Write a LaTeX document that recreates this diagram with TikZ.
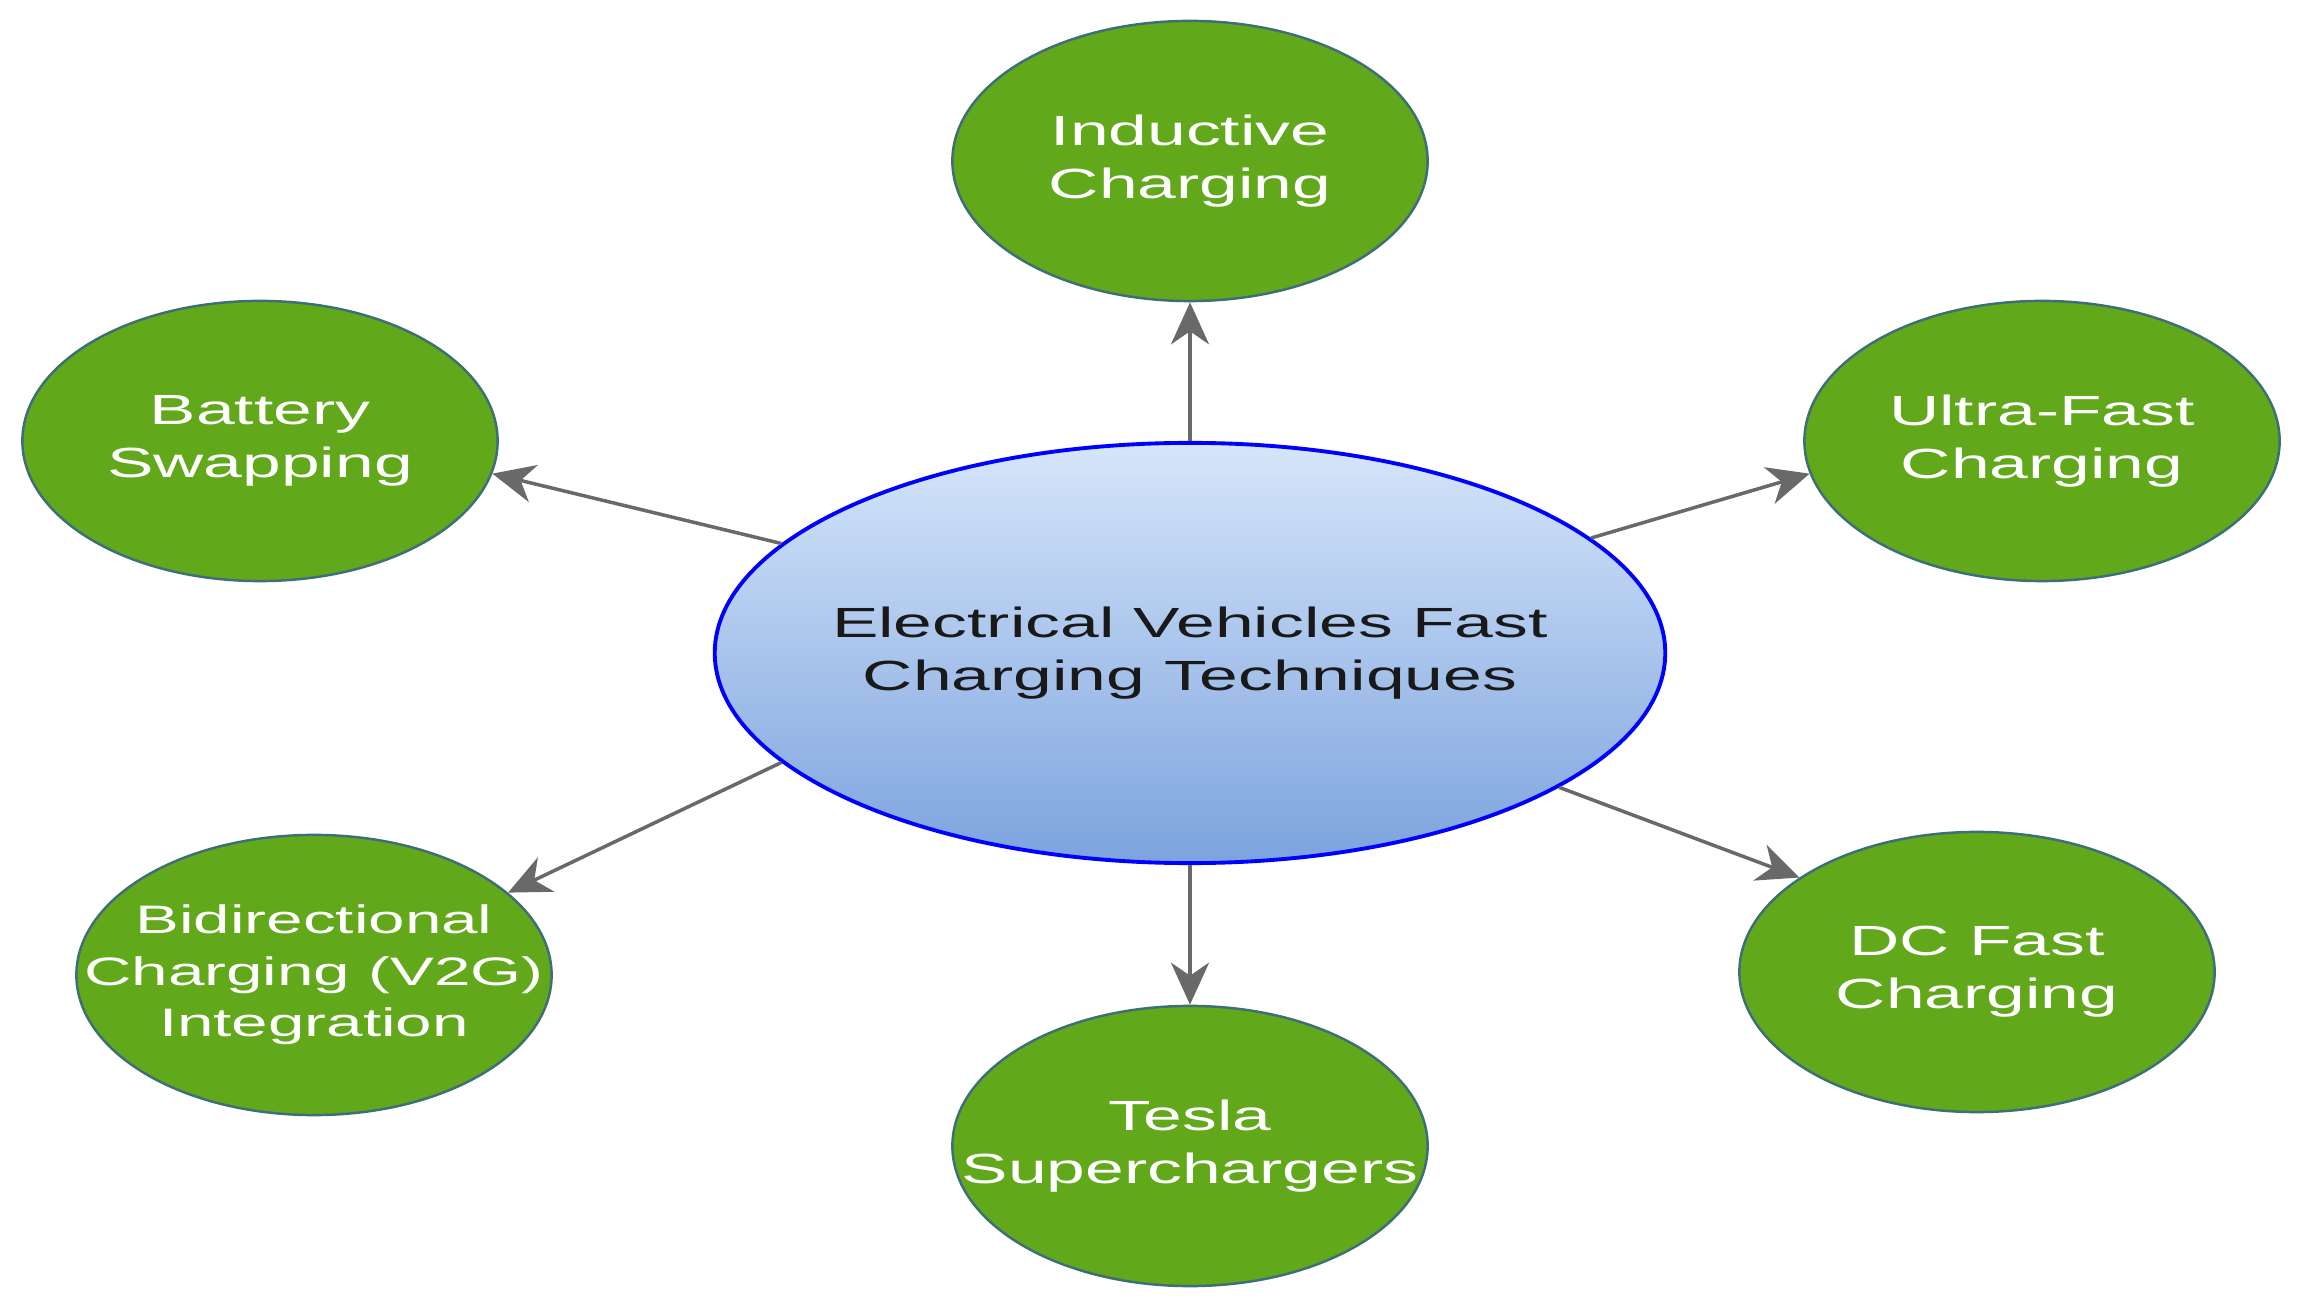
\documentclass[tikz,border=0pt]{standalone}
\usepackage{fontspec}
\setmainfont[FakeStretch=1.65]{Liberation Sans}
\usepackage{xcolor}
\usepackage{tikz}
\usetikzlibrary{shapes,arrows.meta,positioning}

\definecolor{techgreen}{RGB}{97,168,27}
\definecolor{techedge}{RGB}{62,110,120}
\definecolor{hubtop}{RGB}{214,230,250}
\definecolor{hubbottom}{RGB}{124,163,222}
\definecolor{arrowgrey}{RGB}{105,105,105}

\begin{document}
\begin{tikzpicture}[
    x=0.01cm, y=-0.01cm,
    tech/.style={ellipse, draw=techedge, line width=0.7pt, fill=techgreen, minimum width=4.75cm, minimum height=2.8cm, inner xsep=-1.6cm, inner ysep=0pt, align=center, text=white, font=\fontsize{12}{15}\selectfont},
    hub/.style={ellipse, draw=blue, line width=1.1pt, top color=hubtop, bottom color=hubbottom, minimum width=9.5cm, minimum height=4.2cm, inner xsep=-2cm, inner ysep=0pt, align=center, text=black!90, font=\fontsize{12}{15}\selectfont},
    arrow/.style={-{Stealth[length=0.42cm, width=0.38cm, inset=0.13cm]}, line width=1pt, draw=arrowgrey}
]
\useasboundingbox (0,0) rectangle (2300,1307);

% Centre
\node[hub] (evfc) at (1190,653) {Electrical Vehicles Fast\\Charging Techniques};

% Techniques
\node[tech] (inductive) at (1190,161) {Inductive\\Charging};
\node[tech] (swapping) at (260,441) {Battery\\Swapping};
\node[tech] (ultrafast) at (2042,441) {Ultra-Fast\\Charging};
\node[tech, font=\fontsize{11.3}{14.6}\selectfont] (v2g) at (314,975) {Bidirectional\\Charging (V2G)\\Integration};
\node[tech] (tesla) at (1190,1146) {Tesla\\Superchargers};
\node[tech] (dcfast) at (1977,972) {DC Fast\\Charging};

% Arrows
\draw[arrow] (evfc) -- (inductive);
\draw[arrow] (evfc.165) -- (swapping.352);
\draw[arrow] (evfc.16) -- (ultrafast.188);
\draw[arrow] (evfc.195) -- (v2g.23);
\draw[arrow] (evfc) -- (tesla);
\draw[arrow] (evfc.340) -- (dcfast.152);

\end{tikzpicture}
\end{document}
